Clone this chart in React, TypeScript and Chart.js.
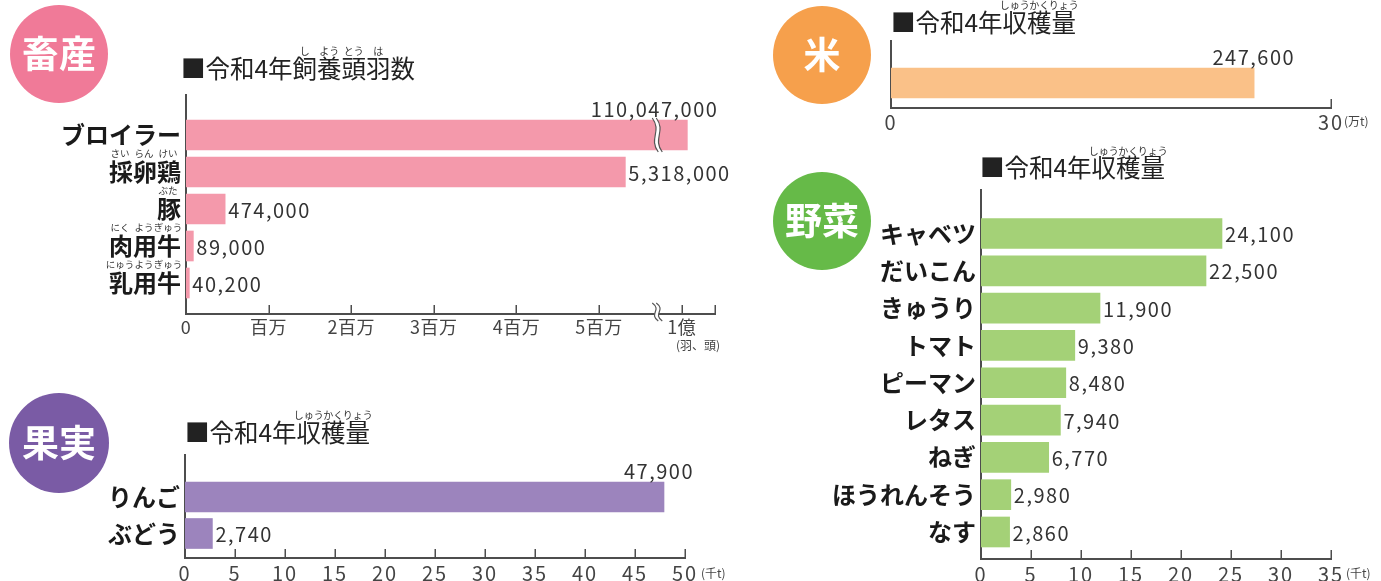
import React, { useEffect, useRef } from 'react';
import { Chart, registerables } from 'chart.js';

Chart.register(...registerables);

const W = 1381;
const H = 581;
const FONT = '"Noto Sans CJK JP", "Noto Sans", sans-serif';
const AXIS_COLOR = '#4d4d4d';
const TEXT_COLOR = '#333333';

// ---------- 畜産 (令和4年飼養頭羽数) ----------
const livestockCategories = ['ブロイラー', '採卵鶏', '豚', '肉用牛', '乳用牛'];
const livestockRuby = [[], ['さい', 'らん', 'けい'], ['ぶた'], ['にく', 'よう', 'ぎゅう'], ['にゅう', 'よう', 'ぎゅう']];
const livestockValues = [110047000, 5318000, 474000, 89000, 40200];
const livestockTickValues = [0, 1000000, 2000000, 3000000, 4000000, 5000000, 100000000];
const livestockTickLabels = ['0', '百万', '2百万', '3百万', '4百万', '5百万', '1億'];

// ---------- 果実 (令和4年収穫量, 千t) ----------
const fruitCategories = ['りんご', 'ぶどう'];
const fruitValues = [47900, 2740];
const fruitTicks = [0, 5, 10, 15, 20, 25, 30, 35, 40, 45, 50];

// ---------- 米 (令和4年収穫量, 万t) ----------
const riceCategories = ['米'];
const riceValues = [247600];
const riceTicks = [0, 30];

// ---------- 野菜 (令和4年収穫量, 千t) ----------
const vegCategories = ['キャベツ', 'だいこん', 'きゅうり', 'トマト', 'ピーマン', 'レタス', 'ねぎ', 'ほうれんそう', 'なす'];
const vegValues = [24100, 22500, 11900, 9380, 8480, 7940, 6770, 2980, 2860];
const vegTicks = [0, 5, 10, 15, 20, 25, 30, 35];

// broken axis for livestock: millions up to the break, compressed above it
const LIVESTOCK_BREAK = 5.68;
const LIVESTOCK_MAX = 6.403;
const livestockAxis = (v: number) => (v < 10000000 ? v / 1000000 : 6.0 + ((v - 100000000) / 100000000) * 0.68);

type Panel = {
  id: string;
  categories: string[];
  values: number[];
  toAxis: (v: number) => number;
  color: string;
  area: { left: number; top: number; right: number; bottom: number };
  yMin: number;
  yMax: number;
  xMax: number;
  xTicks: number[];
  xTickLabels: string[];
  tickFontSize: number;
  tickPadding: number;
  tickSpacing: number;
  showYLabels: boolean;
  yRuby?: string[][];
  aboveIndex: number;
  aboveDx: number;
  badge: { x: number; y: number; r: number; color: string; text: string };
  title: { x: number; y: number; text: string; rubyY: number; ruby: { index: number; text: string }[] };
  unit: { text: string; x: number; y: number; align: CanvasTextAlign };
  breakAt?: number;
};

const harvestRuby = [
  { index: 5, text: 'しゅう' },
  { index: 6, text: 'かく' },
  { index: 7, text: 'りょう' },
];

const PANELS: Panel[] = [
  {
    id: 'livestock',
    categories: livestockCategories,
    values: livestockValues,
    toAxis: livestockAxis,
    color: '#f499ab',
    area: { left: 186, top: 95, right: 715, bottom: 314 },
    yMin: -1.081,
    yMax: 4.838,
    xMax: LIVESTOCK_MAX,
    xTicks: [...livestockTickValues.map(livestockAxis), LIVESTOCK_MAX],
    xTickLabels: [...livestockTickLabels, ''],
    tickFontSize: 18,
    tickPadding: 2,
    tickSpacing: 0.5,
    showYLabels: true,
    yRuby: livestockRuby,
    aboveIndex: 0,
    aboveDx: 31,
    badge: { x: 59, y: 54, r: 49, color: '#f07a98', text: '畜産' },
    title: {
      x: 181, y: 69, text: '■令和4年飼養頭羽数', rubyY: 51,
      ruby: [{ index: 5, text: 'し' }, { index: 6, text: 'よう' }, { index: 7, text: 'とう' }, { index: 8, text: 'は' }],
    },
    unit: { text: '(羽、頭)', x: 698, y: 345, align: 'center' },
    breakAt: LIVESTOCK_BREAK,
  },
  {
    id: 'fruit',
    categories: fruitCategories,
    values: fruitValues,
    toAxis: (v) => v / 1000,
    color: '#9c84bd',
    area: { left: 185, top: 455, right: 685, bottom: 558 },
    yMin: -1.151,
    yMax: 1.671,
    xMax: 50,
    xTicks: fruitTicks,
    xTickLabels: fruitTicks.map(String),
    tickFontSize: 20,
    tickPadding: 3,
    tickSpacing: 2,
    showYLabels: true,
    aboveIndex: 0,
    aboveDx: 30,
    badge: { x: 59, y: 443, r: 50, color: '#7a5ba5', text: '果実' },
    title: { x: 185, y: 433, text: '■令和4年収穫量', rubyY: 415, ruby: harvestRuby },
    unit: { text: '(千t)', x: 701, y: 573, align: 'left' },
  },
  {
    id: 'rice',
    categories: riceCategories,
    values: riceValues,
    toAxis: (v) => v / 10000,
    color: '#fac188',
    area: { left: 891, top: 41, right: 1331, bottom: 108 },
    yMin: -1.135,
    yMax: 0.676,
    xMax: 30,
    xTicks: riceTicks,
    xTickLabels: riceTicks.map(String),
    tickFontSize: 20,
    tickPadding: 2,
    tickSpacing: 2,
    showYLabels: false,
    aboveIndex: 0,
    aboveDx: 41,
    badge: { x: 822, y: 55, r: 49, color: '#f6a04c', text: '米' },
    title: { x: 891, y: 23, text: '■令和4年収穫量', rubyY: 5, ruby: harvestRuby },
    unit: { text: '(万t)', x: 1344, y: 121, align: 'left' },
  },
  {
    id: 'veg',
    categories: vegCategories,
    values: vegValues,
    toAxis: (v) => v / 1000,
    color: '#a4d177',
    area: { left: 981, top: 190, right: 1331, bottom: 559 },
    yMin: -1.166,
    yMax: 8.724,
    xMax: 35,
    xTicks: vegTicks,
    xTickLabels: vegTicks.map(String),
    tickFontSize: 20,
    tickPadding: 3,
    tickSpacing: 2,
    showYLabels: true,
    aboveIndex: -1,
    aboveDx: 0,
    badge: { x: 822, y: 221, r: 49, color: '#66ba48', text: '野菜' },
    title: { x: 980, y: 168, text: '■令和4年収穫量', rubyY: 151, ruby: harvestRuby },
    unit: { text: '(千t)', x: 1346, y: 573, align: 'left' },
  },
];

function drawBreak(ctx: CanvasRenderingContext2D, cx: number, top: number, bottom: number) {
  const h = bottom - top;
  const g = 4;
  const path = (dx: number) => {
    ctx.moveTo(cx - 3 + dx, top);
    ctx.bezierCurveTo(cx + 7 + dx, top + h * 0.4, cx - 7 + dx, top + h * 0.6, cx + 3 + dx, bottom);
  };
  ctx.beginPath();
  path(0);
  ctx.lineTo(cx + 3 + g, bottom);
  ctx.bezierCurveTo(cx - 7 + g, top + h * 0.6, cx + 7 + g, top + h * 0.4, cx - 3 + g, top);
  ctx.closePath();
  ctx.fillStyle = '#ffffff';
  ctx.fill();
  ctx.strokeStyle = '#555555';
  ctx.lineWidth = 1.2;
  ctx.beginPath();
  path(0);
  ctx.stroke();
  ctx.beginPath();
  path(g);
  ctx.stroke();
}

function makeDecor(cfg: Panel) {
  return {
    id: 'decor-' + cfg.id,
    afterDatasetsDraw(chart: any) {
      // x tick labels are drawn on a later layer (ticks.z = 1); widen their digits
      (chart.ctx as any).letterSpacing = cfg.tickSpacing + 'px';
    },
    afterDraw(chart: any) {
      const ctx: CanvasRenderingContext2D = chart.ctx;
      (ctx as any).letterSpacing = '0px';
      const xs = chart.scales.x;
      const ys = chart.scales.y;
      const area = chart.chartArea;
      ctx.save();

      // inward tick marks
      ctx.strokeStyle = AXIS_COLOR;
      ctx.lineWidth = 1.5;
      xs.ticks.forEach((t: any) => {
        if (t.value <= xs.min) return;
        const px = Math.round(xs.getPixelForValue(t.value)) + 0.25;
        ctx.beginPath();
        ctx.moveTo(px, area.bottom);
        ctx.lineTo(px, area.bottom - 9);
        ctx.stroke();
      });

      const meta = chart.getDatasetMeta(0);

      // axis break
      if (cfg.breakAt !== undefined) {
        const bx = xs.getPixelForValue(cfg.breakAt);
        drawBreak(ctx, bx, area.bottom - 11, area.bottom + 7);
        const b0 = meta.data[0];
        drawBreak(ctx, bx, b0.y - 17, b0.y + 17);
      }

      // value labels
      ctx.font = `400 20px ${FONT}`;
      ctx.fillStyle = TEXT_COLOR;
      (ctx as any).letterSpacing = '1.5px';
      meta.data.forEach((bar: any, i: number) => {
        const txt = cfg.values[i].toLocaleString('en-US');
        ctx.textBaseline = 'middle';
        if (i === cfg.aboveIndex) {
          ctx.textAlign = 'right';
          ctx.fillText(txt, bar.x + cfg.aboveDx, bar.y - 26);
        } else {
          ctx.textAlign = 'left';
          ctx.fillText(txt, bar.x + 3, bar.y + 1);
        }
      });
      (ctx as any).letterSpacing = '0px';

      // y label furigana
      if (cfg.yRuby) {
        cfg.categories.forEach((lab, i) => {
          const rub = cfg.yRuby![i];
          if (!rub || !rub.length) return;
          ctx.font = `bold 24px ${FONT}`;
          const w = ctx.measureText(lab).width;
          const right = area.left - 6;
          const start = right - w;
          const cw = w / lab.length;
          const yc = ys.getPixelForValue(i) - 19;
          ctx.font = `400 9.5px ${FONT}`;
          ctx.fillStyle = TEXT_COLOR;
          ctx.textAlign = 'center';
          ctx.textBaseline = 'middle';
          rub.forEach((r, k) => {
            if (!r) return;
            const cx = lab.length === 1 ? start + w / 2 : start + (k + 0.5) * cw;
            ctx.fillText(r, cx, yc);
          });
        });
      }

      // unit label
      ctx.font = `400 12px ${FONT}`;
      ctx.fillStyle = '#444444';
      ctx.textAlign = cfg.unit.align;
      ctx.textBaseline = 'middle';
      ctx.fillText(cfg.unit.text, cfg.unit.x, cfg.unit.y);

      // badge
      const b = cfg.badge;
      ctx.beginPath();
      ctx.arc(b.x, b.y, b.r, 0, Math.PI * 2);
      ctx.fillStyle = b.color;
      ctx.fill();
      ctx.font = `bold 37px ${FONT}`;
      ctx.fillStyle = '#ffffff';
      ctx.textAlign = 'center';
      ctx.textBaseline = 'middle';
      ctx.fillText(b.text, b.x, b.y);

      // title with furigana
      const t = cfg.title;
      ctx.font = `400 24.5px ${FONT}`;
      ctx.fillStyle = '#222222';
      ctx.textAlign = 'left';
      ctx.textBaseline = 'middle';
      ctx.fillText(t.text, t.x, t.y);
      t.ruby.forEach((r) => {
        ctx.font = `400 24.5px ${FONT}`;
        const a = ctx.measureText(t.text.slice(0, r.index)).width;
        const c = ctx.measureText(t.text.slice(0, r.index + 1)).width;
        ctx.font = `400 10px ${FONT}`;
        ctx.textAlign = 'center';
        ctx.fillStyle = TEXT_COLOR;
        ctx.fillText(r.text, t.x + (a + c) / 2, t.rubyY);
      });

      ctx.restore();
    },
  };
}

function PanelChart({ cfg }: { cfg: Panel }) {
  const ref = useRef<HTMLCanvasElement>(null);
  useEffect(() => {
    const canvas = ref.current;
    if (!canvas) return;
    const yW = cfg.area.left;
    const xH = H - cfg.area.bottom;
    const chart = new Chart(canvas, {
      type: 'bar',
      data: {
        datasets: [
          {
            data: cfg.values.map((v, i) => ({ x: cfg.toAxis(v), y: i })) as any,
            backgroundColor: cfg.color,
            borderWidth: 0,
            barThickness: 30,
          },
        ],
      },
      options: {
        indexAxis: 'y',
        responsive: false,
        animation: false,
        devicePixelRatio: 1,
        layout: {
          padding: { left: 0, top: cfg.area.top, right: W - cfg.area.right, bottom: 0 },
        },
        plugins: { legend: { display: false }, tooltip: { enabled: false } },
        scales: {
          x: {
            type: 'linear',
            position: 'bottom',
            min: 0,
            max: cfg.xMax,
            bounds: 'data',
            offset: false,
            grid: { display: false, drawTicks: false, tickLength: 0 },
            border: { display: true, color: AXIS_COLOR, width: 2 },
            afterBuildTicks: (scale: any) => {
              scale.ticks = cfg.xTicks.map((v) => ({ value: v }));
            },
            afterFit: (scale: any) => {
              scale.height = xH;
            },
            ticks: {
              z: 1,
              autoSkip: false,
              maxRotation: 0,
              minRotation: 0,
              padding: cfg.tickPadding,
              color: '#444444',
              font: { family: FONT, size: cfg.tickFontSize, weight: 400 as any },
              callback: (_v: any, i: number) => cfg.xTickLabels[i],
            },
          },
          y: {
            type: 'linear',
            position: 'left',
            reverse: true,
            min: cfg.yMin,
            max: cfg.yMax,
            bounds: 'data',
            offset: false,
            grid: { display: false, drawTicks: false, tickLength: 0, offset: false },
            border: { display: true, color: AXIS_COLOR, width: 2 },
            afterBuildTicks: (scale: any) => {
              scale.ticks = cfg.categories.map((_c, i) => ({ value: i }));
            },
            afterFit: (scale: any) => {
              scale.width = yW;
            },
            ticks: {
              display: cfg.showYLabels,
              autoSkip: false,
              padding: 5,
              color: '#1a1a1a',
              font: { family: FONT, size: 24, weight: 'bold' },
              callback: (_v: any, i: number) => cfg.categories[i],
            },
          },
        },
      },
      plugins: [makeDecor(cfg)],
    } as any);
    return () => chart.destroy();
  }, [cfg]);
  return (
    <canvas
      ref={ref}
      width={W}
      height={H}
      style={{ position: 'absolute', left: 0, top: 0, width: W, height: H }}
    />
  );
}

export default function App() {
  return (
    <div style={{ position: 'fixed', left: 0, top: 0, width: W, height: H, background: '#ffffff', overflow: 'hidden' }}>
      {PANELS.map((p) => (
        <PanelChart key={p.id} cfg={p} />
      ))}
    </div>
  );
}
